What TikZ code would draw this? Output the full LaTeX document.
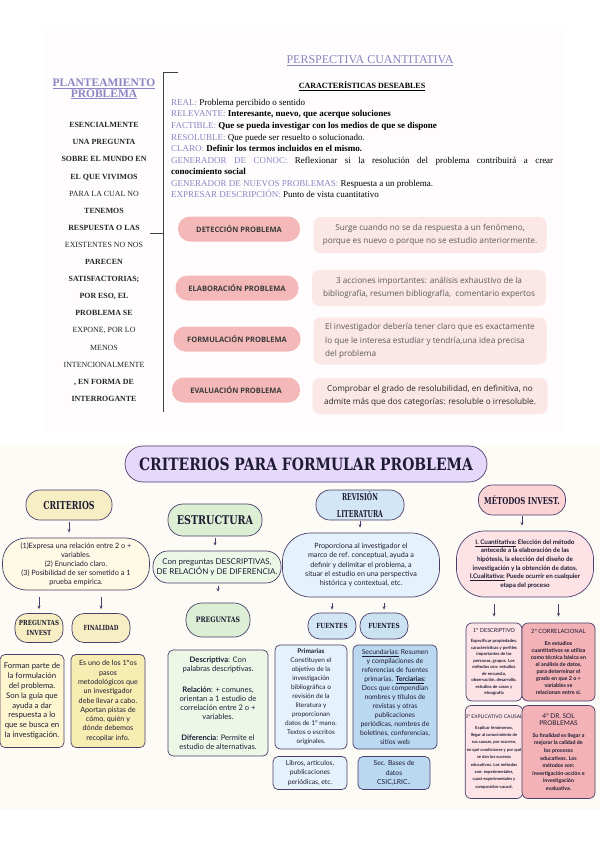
\documentclass[tikz,border=0pt]{standalone}
\usepackage{fontspec}
\setmainfont{Liberation Serif}
\newfontfamily\pillfont{Open Sans}
\newfontfamily\bodyfont{Lato}
\newfontfamily\slabfont{DejaVu Serif}
\usepackage{tikz}
\usetikzlibrary{arrows.meta,positioning}

\definecolor{lav}{HTML}{8D84C4}
\definecolor{pillpink}{HTML}{F4B8B8}
\definecolor{boxpink}{HTML}{FCE7E7}
\definecolor{pilltext}{HTML}{3B3B3B}
\definecolor{boxtext}{HTML}{5A5A5A}
\definecolor{edge}{HTML}{4A3D6B}
\definecolor{ink}{HTML}{1E1B33}
\definecolor{toppanel}{HTML}{FEFCFC}
\definecolor{botpanel}{HTML}{FDFBF6}
\definecolor{titlefill}{HTML}{E5D8FB}
\definecolor{ylwpill}{HTML}{F7EFC3}
\definecolor{ylwlight}{HTML}{FEFAE6}
\definecolor{ylwcard}{HTML}{FDF6CF}
\definecolor{ylwdeep}{HTML}{F7EDB3}
\definecolor{grnpill}{HTML}{DCEFD4}
\definecolor{grnlight}{HTML}{EDF7E8}
\definecolor{blupill}{HTML}{D3E6F6}
\definecolor{blupilltwo}{HTML}{CBE2F3}
\definecolor{blulight}{HTML}{E6F2FB}
\definecolor{blumid}{HTML}{BAD8EF}
\definecolor{methpill}{HTML}{FBD4D5}
\definecolor{methlight}{HTML}{FDE3E5}
\definecolor{methdeep}{HTML}{F2B2B6}

\newcommand\fsz[2]{\fontsize{#1}{#2}\selectfont}
\newcommand\slab[2][0.8]{\scalebox{#1}[1]{\slabfont\bfseries #2}}
\newcommand\lbl[1]{\textcolor{lav}{#1}}
\newcommand\lite[1]{{\mdseries #1}}

\begin{document}
\begin{tikzpicture}[x=1pt,y=-1pt,
  toppill/.style={fill=pillpink,rounded corners=12pt,minimum height=25pt,inner sep=0pt,font=\pillfont\bfseries\fsz{7.5}{9},text=pilltext},
  topbox/.style={fill=boxpink,rounded corners=7pt,inner sep=0pt,align=center,font=\pillfont\fsz{8.2}{13.5},text=boxtext},
  pill/.style={draw=edge,line width=0.7pt,rounded corners=13pt,inner sep=0pt,align=center,text=ink},
  card/.style={draw=edge,line width=0.7pt,rounded corners=5pt,inner sep=0pt,align=center,text=ink},
  arr/.style={-{Stealth[length=3.5pt,width=3pt]},edge,line width=0.7pt}]
\useasboundingbox (0,0) rectangle (600,848);

% planteamiento
\fill[toppanel] (42,30) rectangle (566,432);
\node[font=\bfseries\fsz{11.5}{10.5},text=lav,align=center] (plan) at (104,89) {\underline{PLANTEAMIENTO}\\\underline{PROBLEMA}};
\node[font=\bfseries\fsz{7.9}{17.1},align=center,text=black!85] (esen) at (104,262) {ESENCIALMENTE\\UNA PREGUNTA\\SOBRE EL MUNDO EN\\EL QUE VIVIMOS\\\lite{PARA LA CUAL NO}\\TENEMOS\\RESPUESTA O LAS\\\lite{EXISTENTES NO NOS}\\PARECEN\\SATISFACTORIAS;\\POR ESO, EL\\PROBLEMA SE\\\lite{EXPONE, POR LO}\\\lite{MENOS}\\\lite{INTENCIONALMENTE}\\, EN FORMA DE\\INTERROGANTE};
\draw[line width=0.8pt,black!75] (178,72) -| (163,412);
\draw[line width=0.8pt,black!75] (150,233) -- (163,233);

\node[font=\fsz{12}{14},text=lav] (persp) at (370,61) {\underline{PERSPECTIVA CUANTITATIVA}};
\node[font=\bfseries\fsz{8}{10}] (carac) at (362,86) {\underline{CARACTERÍSTICAS DESEABLES}};
\node[anchor=north west,align=left,inner sep=0pt,font=\fsz{9}{11.55}] (lista) at (171,99) {%
\lbl{REAL:} Problema percibido o sentido\\
\lbl{RELEVANTE:} \textbf{Interesante, nuevo, que acerque soluciones}\\
\lbl{FACTIBLE:} \textbf{Que se pueda investigar con los medios de que se dispone}\\
\lbl{RESOLUBLE:} Que puede ser resuelto o solucionado.\\
\lbl{CLARO:} \textbf{Definir los termos incluidos en el mismo.}\\
\makebox[382pt][s]{\lbl{GENERADOR DE CONOC:} Reflexionar si la resolución del problema contribuirá a crear}\\
\textbf{conocimiento social}\\
\lbl{GENERADOR DE NUEVOS PROBLEMAS:} Respuesta a un problema.\\
\lbl{EXPRESAR DESCRIPCIÓN:} Punto de vista cuantitativo};

% etapas
\node[toppill,minimum width=122pt] (det) at (239,229) {DETECCIÓN PROBLEMA};
\node[toppill,minimum width=123pt] (ela) at (237,288) {ELABORACIÓN PROBLEMA};
\node[toppill,minimum width=127pt] (form) at (237,339) {FORMULACIÓN PROBLEMA};
\node[toppill,minimum width=128pt] (eva) at (236,390) {EVALUACIÓN PROBLEMA};
\node[topbox,minimum width=233pt,minimum height=36pt] (detx) at (430,235) {Surge cuando no se da respuesta a un fenómeno,\\porque es nuevo o porque no se estudio anteriormente.};
\node[topbox,minimum width=234pt,minimum height=36pt] (elax) at (429,288) {3 acciones importantes: análisis exhaustivo de la\\bibliografía, resumen bibliografía,\ \ comentario expertos};
\node[topbox,minimum width=233pt,minimum height=47pt,align=left] (formx) at (430,341) {El investigador debería tener claro que es exactamente\\lo que le interesa estudiar y tendría,una idea precisa\\del problema};
\node[topbox,minimum width=235pt,minimum height=36pt,text=black!85] (evax) at (430,396) {Comprobar el grado de resolubilidad, en definitiva, no\\admite más que dos categorías: resoluble o irresoluble.};

% criterios
\fill[botpanel] (0,444) rectangle (600,810);
\node[pill,fill=titlefill,minimum width=362pt,minimum height=36pt,rounded corners=18pt,font=\fsz{17}{18}] (title) at (306,464) {\slab[0.82]{CRITERIOS PARA FORMULAR PROBLEMA}};

\node[pill,fill=ylwpill,minimum width=86pt,minimum height=30pt,rounded corners=14pt,font=\fsz{11}{12}] (crit) at (69,505) {\slab[0.72]{CRITERIOS}};
\node[pill,fill=ylwlight,minimum width=147pt,minimum height=52pt,rounded corners=24pt,font=\bodyfont\fsz{7.3}{9}] (critx) at (76,564) {(1)Expresa una relación entre 2 o +\\variables.\\(2) Enunciado claro.\\(3) Posibilidad de ser sometido a 1\\prueba empírica.};
\node[pill,fill=ylwpill,minimum width=48pt,minimum height=29pt,rounded corners=12pt,font=\fsz{7}{9.5}] (pinv) at (39,628) {\slab[0.8]{PREGUNTAS}\\\slab[0.8]{INVEST}};
\node[pill,fill=ylwpill,minimum width=58pt,minimum height=29pt,rounded corners=12pt,font=\fsz{7}{9}] (fin) at (101,628) {\slab[0.76]{FINALIDAD}};
\node[card,fill=ylwcard,minimum width=64pt,minimum height=93pt,font=\bodyfont\fsz{7.8}{9.8}] (pinvx) at (32,701) {Forman parte de\\la formulación\\del problema.\\Son la guía que\\ayuda a dar\\respuesta a lo\\que se busca en\\la investigación.};
\node[card,fill=ylwdeep,minimum width=74pt,minimum height=93pt,font=\bodyfont\fsz{7.2}{9.3}] (finx) at (108,701) {Es uno de los 1°os\\pasos\\metodológicos que\\un investigador\\debe llevar a cabo.\\Aportan pistas de\\cómo, quién y\\dónde debemos\\recopilar info.};
\draw[arr,shorten <=2pt,shorten >=5pt] (crit.south) -- (crit.south |- critx.north);
\draw[arr,shorten <=7pt,shorten >=4pt] (pinv.north |- critx.south) -- (pinv.north);
\draw[arr,shorten <=7pt,shorten >=4pt] (fin.north |- critx.south) -- (fin.north);

% estructura
\node[pill,fill=grnpill,minimum width=94pt,minimum height=32pt,rounded corners=15pt,font=\fsz{12}{13}] (estr) at (215,520) {\slab[0.8]{ESTRUCTURA}};
\node[pill,fill=grnlight,minimum width=128pt,minimum height=32pt,rounded corners=15pt,font=\bodyfont\fsz{8}{10}] (estrx) at (217,567) {Con preguntas DESCRIPTIVAS,\\DE RELACIÓN y DE DIFERENCIA.};
\node[pill,fill=grnpill,minimum width=64pt,minimum height=34pt,rounded corners=16pt,font=\fsz{7.5}{9}] (preg) at (218,620) {\slab[0.82]{PREGUNTAS}};
\node[card,fill=grnlight,minimum width=100pt,minimum height=106pt,font=\bodyfont\fsz{7.6}{9}] (pregx) at (218,703) {\textbf{Descriptiva}: Con\\palabras descriptivas.\\[12pt]\textbf{Relación}: + comunes,\\orientan a 1 estudio de\\correlación entre 2 o +\\variables.\\[12pt]\textbf{Diferencia}: Permite el\\estudio de alternativas.};
\draw[arr,shorten <=2pt,shorten >=5pt] (estr.south) -- (estr.south |- estrx.north);
\draw[arr,shorten <=3pt,shorten >=11pt] (preg.north |- estrx.south) -- (preg.north);

% revision literatura
\node[pill,fill=blupill,minimum width=88pt,minimum height=30pt,rounded corners=14pt,font=\fsz{9.5}{17}] (rev) at (360,505) {\slab[0.65]{REVISIÓN}\\\slab[0.65]{LITERATURA}};
\node[pill,fill=blulight,minimum width=157pt,minimum height=64pt,rounded corners=28pt,font=\bodyfont\fsz{7.2}{9.3}] (revx) at (361,565) {Proporciona al investigador el\\marco de ref. conceptual, ayuda a\\definir y delimitar el problema, a\\situar el estudio en una perspectiva\\histórica y contextual, etc.};
\node[pill,fill=blupill,minimum width=48pt,minimum height=26pt,rounded corners=12pt,font=\fsz{7}{9}] (fue1) at (332,626) {\slab[0.82]{FUENTES}};
\node[pill,fill=blupilltwo,minimum width=48pt,minimum height=26pt,rounded corners=12pt,font=\fsz{7}{9}] (fue2) at (384,626) {\slab[0.82]{FUENTES}};
\node[card,fill=blulight,minimum width=72pt,minimum height=104pt,font=\bodyfont\fsz{6.5}{9}] (prim) at (311,697) {\textbf{Primarias}\\Constituyen el\\objetivo de la\\investigación\\bibliográfica o\\revisión de la\\literatura y\\proporcionan\\datos de 1° mano.\\Textos o escritos\\originales.};
\node[card,fill=blumid,minimum width=84pt,minimum height=104pt,font=\bodyfont\fsz{6.8}{9}] (sec) at (395,697) {\underline{Secundarias:} Resumen\\y compilaciones de\\referencias de fuentes\\primarias. \underline{\textbf{Terciarias}}:\\Docs que compendian\\nombres y títulos de\\revistas y otras\\publicaciones\\periódicas, nombres de\\boletines, conferencias,\\sitios web};
\node[card,fill=blulight,minimum width=74pt,minimum height=33pt,font=\bodyfont\fsz{6.8}{9.5}] (libros) at (310,773) {Libros, artículos,\\publicaciones\\periódicas, etc.};
\node[card,fill=blumid,minimum width=72pt,minimum height=33pt,font=\bodyfont\fsz{6.8}{9.5}] (bases) at (394,773) {Sec. Bases de\\datos\\CSIC,LRIC..};
\draw[arr,shorten <=1pt,shorten >=5pt] (rev.south) -- (rev.south |- revx.north);
\draw[arr,shorten <=6pt,shorten >=3pt] (fue1.north |- revx.south) -- (fue1.north);
\draw[arr,shorten <=6pt,shorten >=3pt] (fue2.north |- revx.south) -- (fue2.north);

% metodos
\node[pill,fill=methpill,minimum width=87pt,minimum height=30pt,rounded corners=14pt,font=\fsz{9.5}{11}] (meth) at (522,500) {\slab[0.73]{MÉTODOS INVEST.}};
\node[pill,fill=methlight,minimum width=137pt,minimum height=66pt,rounded corners=28pt,font=\bodyfont\bfseries\fsz{6.3}{8.6}] (methx) at (525,564) {\underline{I. Cuantitativa:} Elección del método\\antecede a la elaboración de las\\hipótesis, la elección del diseño de\\investigación y la obtención de datos.\\\underline{I.Cualitativa:} Puede ocurrir en cualquier\\etapa del proceso};
\node[card,fill=methlight,minimum width=56pt,minimum height=78pt,rounded corners=6pt,font=\bodyfont\bfseries\fsz{4.3}{6.5}] (desc) at (494,662) {{\mdseries\fsz{5.5}{6.5}1° DESCRIPTIVO}\\[4pt]Especificar propiedades,\\características y perfiles\\importantes de las\\personas, grupos. Los\\métodos son: estudios\\de encuesta,\\observación, desarrollo,\\estudios de casos y\\etnografía};
\node[card,fill=methdeep,minimum width=73pt,minimum height=78pt,rounded corners=6pt,font=\bodyfont\bfseries\fsz{5.4}{7}] (corr) at (558.5,662) {{\mdseries\fsz{5.8}{7}2° CORRELACIONAL}\\[5pt]En estudios\\cuantitativos se utiliza\\como técnica básica en\\el análisis de datos,\\para determinar el\\grado en que 2 o +\\variables se\\relacionan entre sí.};
\node[card,fill=methlight,minimum width=56pt,minimum height=93pt,rounded corners=6pt,font=\bodyfont\bfseries\fsz{4.2}{7.4}] (expl) at (494,752) {{\mdseries\fsz{5}{7.4}3° EXPLICATIVO CAUSAL}\\[3pt]Explicar fenómenos,\\llegar al conocimiento de\\sus causas, por ocurren,\\en qué condiciones y por qué\\se dan los sucesos\\educativos. Los métodos\\son: experimentales,\\cuasi-experimentales y\\comparativo-causal.};
\node[card,fill=methdeep,minimum width=73pt,minimum height=93pt,rounded corners=6pt,font=\bodyfont\bfseries\fsz{5.3}{7.6}] (sol) at (558.5,752) {{\mdseries\fsz{6.5}{7.6}4° DR. SOL}\\{\mdseries\fsz{6.5}{7.6}PROBLEMAS}\\[4pt]Su finalidad es llegar a\\mejorar la calidad de\\los procesos\\educativos. Los\\métodos son:\\investigación-acción e\\investigación\\evaluativa.};
\draw[arr,shorten <=1pt,shorten >=5pt] (meth.south) -- (meth.south |- methx.north);
\draw[arr,shorten <=7pt,shorten >=6pt] (desc.north |- methx.south) -- (desc.north);
\draw[arr,shorten <=7pt,shorten >=6pt] (corr.north |- methx.south) -- (corr.north);
\end{tikzpicture}
\end{document}
